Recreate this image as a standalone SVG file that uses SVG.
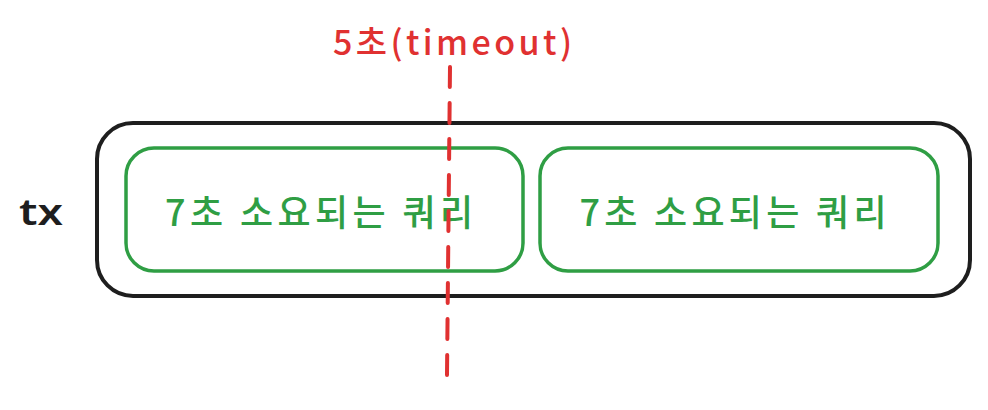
<svg xmlns="http://www.w3.org/2000/svg" width="988" height="410" viewBox="0 0 988 410">
  <style>
    .outer { fill: none; stroke: #1e1e1e; stroke-width: 4; stroke-linejoin: round; }
    .query { fill: none; stroke: #2f9e44; stroke-width: 3.5; stroke-linejoin: round; }
    .qtext { fill: #2f9e44; font-family: "Noto Sans CJK KR", "Noto Sans", sans-serif; font-size: 36px; font-weight: 500; text-anchor: middle; }
    .txlabel { fill: #1e1e1e; font-family: "Noto Sans", "Liberation Sans", sans-serif; font-size: 36px; font-weight: 600; }
    .tlabel { fill: #e03131; font-family: "Noto Sans CJK KR", "Noto Sans", sans-serif; font-size: 34px; font-weight: 500; }
    .timeline { fill: none; stroke: #e03131; stroke-width: 4; stroke-linecap: round; stroke-dasharray: 20 16; }
  </style>
  <rect x="0" y="0" width="988" height="410" fill="#ffffff"/>

  <g id="tx-label">
    <text class="txlabel" x="19" y="225" textLength="44" lengthAdjust="spacingAndGlyphs">tx</text>
  </g>

  <g id="tx">
    <rect class="outer" x="97" y="123" width="873" height="173" rx="36" ry="36"/>
  </g>

  <g id="query1">
    <rect class="query" x="126" y="148" width="397" height="123" rx="28" ry="28"/>
    <text class="qtext" x="319" y="226" textLength="308" lengthAdjust="spacing">7초 소요되는 쿼리</text>
  </g>

  <g id="query2">
    <rect class="query" x="540" y="148" width="398" height="123" rx="28" ry="28"/>
    <text class="qtext" x="733" y="226" textLength="307" lengthAdjust="spacing">7초 소요되는 쿼리</text>
  </g>

  <g id="timeout-label">
    <text class="tlabel" x="333" y="55" textLength="239" lengthAdjust="spacing">5초(timeout)</text>
  </g>

  <g id="connectors">
    <line class="timeline" x1="450" y1="67" x2="447" y2="375"/>
  </g>
</svg>
